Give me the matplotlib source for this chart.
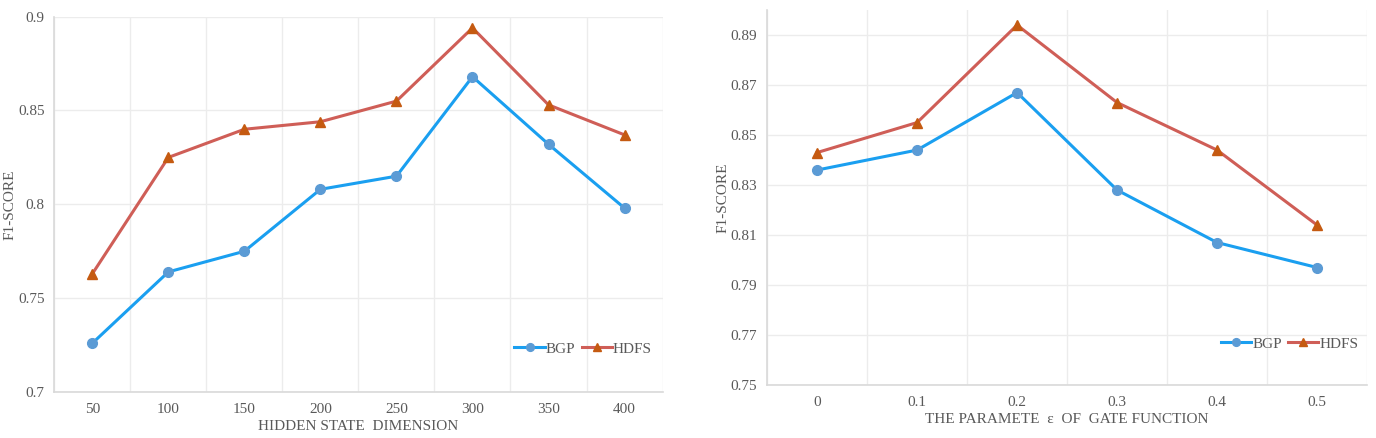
import matplotlib.pyplot as plt
from matplotlib.ticker import FixedLocator

# left panel: hidden state dimension
dims = ["50", "100", "150", "200", "250", "300", "350", "400"]
bgp_dim = [0.726, 0.764, 0.775, 0.808, 0.815, 0.868, 0.832, 0.798]
hdfs_dim = [0.763, 0.825, 0.840, 0.844, 0.855, 0.894, 0.853, 0.837]

# right panel: gate parameter epsilon
eps = ["0", "0.1", "0.2", "0.3", "0.4", "0.5"]
bgp_eps = [0.836, 0.844, 0.867, 0.828, 0.807, 0.797]
hdfs_eps = [0.843, 0.855, 0.894, 0.863, 0.844, 0.814]

left_yticks = [0.7, 0.75, 0.8, 0.85, 0.9]
right_yticks = [0.75, 0.77, 0.79, 0.81, 0.83, 0.85, 0.87, 0.89]

plt.rcParams["font.family"] = ["Liberation Serif", "DejaVu Serif"]
TXT = "#595959"
BLUE_LINE, BLUE_MK = "#1a9ff0", "#5b9bd5"
RED_LINE, RED_MK = "#cf5e57", "#c55a11"


def style_panel(ax, cats, yticks, ylim, xlabel, leg_loc, ylab_x):
    n = len(cats)
    x = range(1, n + 1)
    ax.set_xlim(0.5, n + 0.5)
    ax.set_ylim(*ylim)
    ax.set_xticks(list(x))
    ax.set_xticklabels(cats)
    ax.xaxis.set_minor_locator(FixedLocator([i + 0.5 for i in range(n + 1)]))
    ax.set_yticks(yticks)
    ax.set_yticklabels([f"{v:g}" for v in yticks])
    ax.grid(True, which="minor", axis="x", color="#ececec", lw=1)
    ax.grid(True, which="major", axis="y", color="#ececec", lw=1)
    ax.tick_params(which="both", length=0, colors=TXT, labelsize=11)
    ax.tick_params(axis="x", pad=8)
    ax.tick_params(axis="y", pad=7)
    for s in ("top", "right"):
        ax.spines[s].set_visible(False)
    for s in ("left", "bottom"):
        ax.spines[s].set_color("#d9d9d9")
        ax.spines[s].set_linewidth(1.2)
    ax.set_ylabel("F1-SCORE", color=TXT, fontsize=11)
    ax.yaxis.set_label_coords(ylab_x, 0.5)
    ax.set_xlabel(xlabel, color=TXT, fontsize=11, labelpad=3)
    leg = ax.legend(loc="lower right", bbox_to_anchor=leg_loc, ncol=2, frameon=False,
                    fontsize=11, handlelength=2.0, handletextpad=0.05, columnspacing=0.4,
                    markerscale=0.8)
    for t in leg.get_texts():
        t.set_color(TXT)


fig = plt.figure(figsize=(13.76, 4.38), dpi=100)
ax1 = fig.add_axes([0.0395, 0.105, 0.442, 0.857])
ax2 = fig.add_axes([0.5575, 0.121, 0.436, 0.856])

x1 = range(1, len(dims) + 1)
ax1.plot(x1, bgp_dim, color=BLUE_LINE, lw=2.2, marker="o", ms=7,
         mfc=BLUE_MK, mec=BLUE_MK, label="BGP")
ax1.plot(x1, hdfs_dim, color=RED_LINE, lw=2.2, marker="^", ms=7,
         mfc=RED_MK, mec=RED_MK, label="HDFS")
style_panel(ax1, dims, left_yticks, (0.7, 0.9), "HIDDEN STATE  DIMENSION",
            (1.005, 0.06), -0.062)

x2 = range(1, len(eps) + 1)
ax2.plot(x2, bgp_eps, color=BLUE_LINE, lw=2.2, marker="o", ms=7,
         mfc=BLUE_MK, mec=BLUE_MK, label="BGP")
ax2.plot(x2, hdfs_eps, color=RED_LINE, lw=2.2, marker="^", ms=7,
         mfc=RED_MK, mec=RED_MK, label="HDFS")
style_panel(ax2, eps, right_yticks, (0.75, 0.90), "THE PARAMETE  \u03b5  OF  GATE FUNCTION",
            (1.008, 0.055), -0.062)

fig.savefig("out.png", dpi=100)
